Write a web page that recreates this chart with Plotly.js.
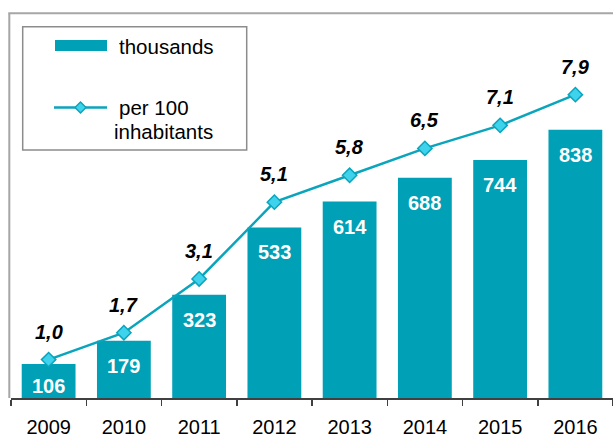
<!DOCTYPE html>
<html>
<head>
<meta charset="utf-8">
<script src="https://cdn.plot.ly/plotly-3.0.1.min.js"></script>
<style>html,body{margin:0;padding:0;background:#fff;}#chart{width:613px;height:436px;}</style>
</head>
<body>
<div id="chart"></div>
<script>
// ---- data ----
const years = ['2009','2010','2011','2012','2013','2014','2015','2016'];
const thousands = [106, 179, 323, 533, 614, 688, 744, 838];
const per100 = [1.0, 1.7, 3.1, 5.1, 5.8, 6.5, 7.1, 7.9];
const legendLabels = ['thousands', 'per 100', 'inhabitants'];

// ---- styling ----
const W = 613, H = 436;
const M = {l: 11, r: 0, t: 14, b: 38};
const barColor = '#00a0b6';
const lineColor = '#0aa5bc';
const markerFill = '#3ed2ec';
const font = 'Liberation Sans, Arial, sans-serif';
const Y1MAX = 1200, Y2MAX = 10;
const plotH = H - M.t - M.b, plotW = W - M.l - M.r;
const px = x => (x - M.l) / plotW;           // pixel -> paper x
const py = y => (H - M.b - y) / plotH;       // pixel -> paper y

const traces = [
  {
    type: 'bar', x: years, y: thousands, name: legendLabels[0],
    marker: {color: barColor}, showlegend: false, hoverinfo: 'x+y'
  },
  {
    type: 'scatter', mode: 'lines+markers', x: years, y: per100, yaxis: 'y2',
    name: legendLabels[1] + ' ' + legendLabels[2], showlegend: false,
    line: {color: lineColor, width: 2.5},
    marker: {symbol: 'diamond', size: 11, color: markerFill, line: {color: lineColor, width: 1.5}}
  }
];

const annotations = [];
const pxPerUnit1 = plotH / Y1MAX;
thousands.forEach((v, i) => {
  const h = v * pxPerUnit1;
  annotations.push({
    x: years.indexOf(years[i]), y: v, xref: 'x', yref: 'y', text: '<b>' + v + '</b>',
    showarrow: false, yanchor: 'middle', yshift: -Math.min(25, h - 12.5),
    font: {family: font, size: 20, color: '#ffffff'}
  });
});
per100.forEach((v, i) => {
  annotations.push({
    x: years.indexOf(years[i]), y: v, xref: 'x', yref: 'y2',
    text: '<b><i>' + v.toFixed(1).replace('.', ',') + '</i></b>',
    showarrow: false, yanchor: 'middle', yshift: 28,
    font: {family: font, size: 20, color: '#000000'}
  });
});
// legend texts
annotations.push({xref: 'paper', yref: 'paper', x: px(117), y: py(46.5), xanchor: 'left', yanchor: 'middle',
  text: legendLabels[0], showarrow: false, font: {family: font, size: 20.5, color: '#000'}});
annotations.push({xref: 'paper', yref: 'paper', x: px(117), y: py(107.5), xanchor: 'left', yanchor: 'middle',
  text: legendLabels[1], showarrow: false, font: {family: font, size: 20.5, color: '#000'}});
annotations.push({xref: 'paper', yref: 'paper', x: px(111.5), y: py(131), xanchor: 'left', yanchor: 'middle',
  text: legendLabels[2], showarrow: false, font: {family: font, size: 20.5, color: '#000'}});

const dx = 5.5, cx = 80.5, cy = 107.5;
const diamondPath = `M${px(cx-dx)},${py(cy)} L${px(cx)},${py(cy-dx)} L${px(cx+dx)},${py(cy)} L${px(cx)},${py(cy+dx)} Z`;

const shapes = [
  // outer frame (left + top)
  {type: 'line', xref: 'paper', yref: 'paper', x0: px(9.3), x1: px(9.3), y0: py(398), y1: py(13.3),
   line: {color: '#a6a6a6', width: 2}},
  {type: 'line', xref: 'paper', yref: 'paper', x0: px(8.3), x1: px(613), y0: py(13.3), y1: py(13.3),
   line: {color: '#a6a6a6', width: 2}},
  // legend box
  {type: 'rect', xref: 'paper', yref: 'paper', x0: px(22.7), x1: px(246.7), y0: py(150), y1: py(26.7),
   line: {color: '#8c8c8c', width: 1.5}, fillcolor: 'rgba(0,0,0,0)'},
  // legend bar swatch
  {type: 'rect', xref: 'paper', yref: 'paper', x0: px(55), x1: px(107), y0: py(51), y1: py(40),
   line: {width: 0}, fillcolor: barColor},
  // legend line swatch
  {type: 'line', xref: 'paper', yref: 'paper', x0: px(54), x1: px(107), y0: py(cy), y1: py(cy),
   line: {color: lineColor, width: 2.5}},
  {type: 'path', xref: 'paper', yref: 'paper', path: diamondPath,
   fillcolor: markerFill, line: {color: lineColor, width: 1.5}}
];

const layout = {
  width: W, height: H,
  margin: M,
  paper_bgcolor: '#ffffff', plot_bgcolor: 'rgba(0,0,0,0)',
  bargap: 0.285,
  showlegend: false,
  xaxis: {
    type: 'category', range: [-0.5, 7.5], fixedrange: true,
    showline: true, linecolor: '#404040', linewidth: 1.5,
    ticks: 'outside', tickson: 'boundaries', ticklen: 6, tickcolor: '#404040', tickwidth: 1.5,
    tickfont: {family: font, size: 20, color: '#000'}, ticklabelstandoff: 10,
    showgrid: false, zeroline: false
  },
  yaxis: {range: [0, Y1MAX], visible: false, showgrid: false, zeroline: false, fixedrange: true},
  yaxis2: {range: [0, Y2MAX], overlaying: 'y', side: 'right', visible: false, showgrid: false, zeroline: false, fixedrange: true},
  annotations: annotations,
  shapes: shapes
};

Plotly.newPlot('chart', traces, layout, {displayModeBar: false, staticPlot: true});
</script>
</body>
</html>
